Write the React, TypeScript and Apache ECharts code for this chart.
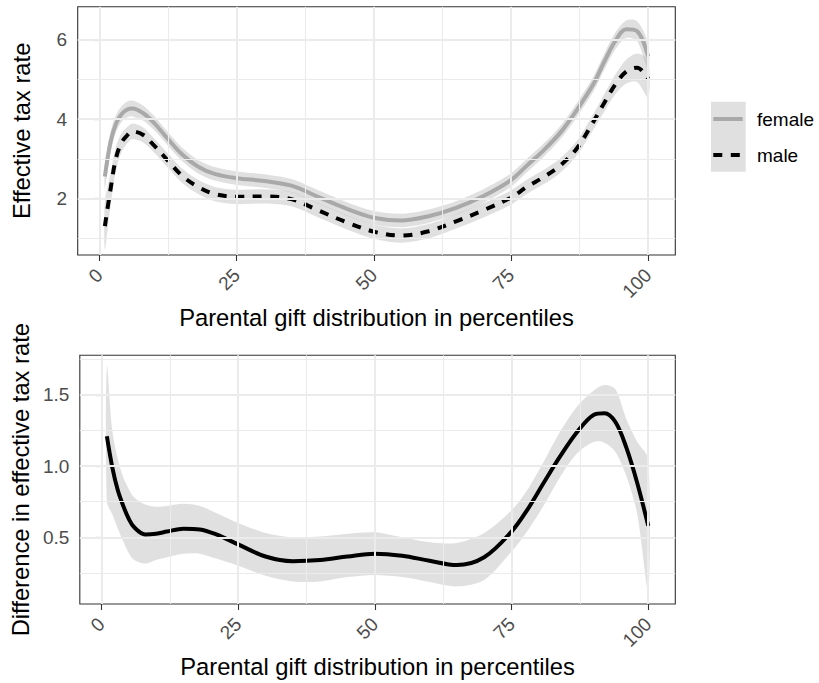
import React, { useEffect, useRef } from "react";
import * as echarts from "echarts";

// ---------- data ----------
const percentiles = [1, 2, 3, 4, 5, 6, 8, 10, 12, 15, 18, 21, 25, 30, 35, 40, 45, 50, 55, 60, 65, 70, 75, 78, 81, 84, 87, 90, 92, 94, 96, 98, 100];

const femaleFit = [2.55, 3.40, 3.88, 4.12, 4.24, 4.27, 4.15, 3.90, 3.58, 3.12, 2.80, 2.62, 2.51, 2.44, 2.32, 2.03, 1.74, 1.51, 1.44, 1.55, 1.76, 2.06, 2.46, 2.84, 3.22, 3.66, 4.23, 4.88, 5.45, 5.97, 6.27, 6.22, 5.58];
const femaleLo = [2.25, 3.14, 3.66, 3.92, 4.04, 4.07, 3.96, 3.72, 3.41, 2.95, 2.63, 2.45, 2.34, 2.27, 2.15, 1.86, 1.57, 1.34, 1.27, 1.38, 1.59, 1.89, 2.29, 2.67, 3.05, 3.49, 4.05, 4.69, 5.25, 5.76, 6.05, 5.97, 5.25];
const femaleHi = [2.85, 3.66, 4.10, 4.32, 4.44, 4.47, 4.34, 4.08, 3.75, 3.29, 2.97, 2.79, 2.68, 2.61, 2.49, 2.20, 1.91, 1.68, 1.61, 1.72, 1.93, 2.23, 2.63, 3.01, 3.39, 3.83, 4.41, 5.07, 5.65, 6.18, 6.49, 6.47, 5.91];

const maleFit = [1.30, 2.20, 3.00, 3.40, 3.58, 3.69, 3.60, 3.33, 3.03, 2.58, 2.29, 2.11, 2.04, 2.05, 1.98, 1.69, 1.40, 1.16, 1.06, 1.17, 1.42, 1.70, 2.02, 2.30, 2.54, 2.83, 3.26, 3.93, 4.41, 4.87, 5.20, 5.30, 5.02];
const maleLo = [0.70, 1.78, 2.70, 3.16, 3.37, 3.49, 3.41, 3.15, 2.85, 2.40, 2.11, 1.93, 1.86, 1.87, 1.80, 1.51, 1.22, 0.98, 0.88, 0.99, 1.24, 1.52, 1.84, 2.12, 2.36, 2.65, 3.08, 3.73, 4.19, 4.62, 4.90, 4.94, 4.55];
const maleHi = [1.90, 2.62, 3.30, 3.64, 3.79, 3.89, 3.79, 3.51, 3.21, 2.76, 2.47, 2.29, 2.22, 2.23, 2.16, 1.87, 1.58, 1.34, 1.24, 1.35, 1.60, 1.88, 2.20, 2.48, 2.72, 3.01, 3.45, 4.13, 4.63, 5.12, 5.50, 5.66, 5.49];

const diffFit = [1.21, 0.99, 0.83, 0.72, 0.63, 0.57, 0.52, 0.525, 0.54, 0.56, 0.555, 0.52, 0.45, 0.365, 0.332, 0.34, 0.365, 0.385, 0.37, 0.335, 0.305, 0.36, 0.54, 0.70, 0.89, 1.075, 1.24, 1.36, 1.372, 1.31, 1.13, 0.88, 0.58];
const diffLo = [0.75, 0.66, 0.56, 0.47, 0.39, 0.34, 0.315, 0.34, 0.36, 0.385, 0.385, 0.35, 0.30, 0.23, 0.19, 0.19, 0.22, 0.235, 0.22, 0.185, 0.155, 0.20, 0.40, 0.55, 0.73, 0.93, 1.09, 1.17, 1.165, 1.10, 0.93, 0.66, 0.12];
const diffHi = [1.70, 1.25, 1.05, 0.92, 0.84, 0.78, 0.73, 0.715, 0.72, 0.735, 0.72, 0.67, 0.60, 0.53, 0.50, 0.505, 0.525, 0.535, 0.50, 0.465, 0.46, 0.53, 0.69, 0.84, 1.04, 1.25, 1.42, 1.53, 1.57, 1.54, 1.33, 1.17, 1.05];

const xTicks = [0, 25, 50, 75, 100];
const xMinorBreaks = [12.5, 37.5, 62.5, 87.5];
const topYTicks = [2, 4, 6];
const topYMinorBreaks = [1, 3, 5];
const botYTicks = [0.5, 1.0, 1.5];
const botYMinorBreaks = [0.25, 0.75, 1.25, 1.75];

const seriesNames = ["female", "male"];
const xTitle = "Parental gift distribution in percentiles";
const topYTitle = "Effective tax rate";
const botYTitle = "Difference in effective tax rate";

// ---------- styles ----------
const FONT = "'Liberation Sans', Arial, Helvetica, sans-serif";
const RIBBON = "rgba(153,153,153,0.3)";
const FEMALE_COL = "#A9A9A9";
const LINE_W = 4;
const DASH = [9, 8.5];

function pairs(ys: number[]) {
  return percentiles.map((x, i) => [x, ys[i]]);
}

function band(lo: number[], hi: number[], axisIndex: number, z: number) {
  const data = percentiles.map((x, i) => [x, lo[i], hi[i]]);
  return {
    type: "custom",
    xAxisIndex: axisIndex,
    yAxisIndex: axisIndex,
    z,
    silent: true,
    data,
    encode: { x: 0, y: [1, 2] },
    renderItem: (params: any, api: any) => {
      if (params.dataIndex !== 0) return null;
      const upper = data.map((d) => api.coord([d[0], d[2]]));
      const lower = data.map((d) => api.coord([d[0], d[1]])).reverse();
      return {
        type: "polygon",
        shape: { points: upper.concat(lower), smooth: 0.3 },
        style: { fill: RIBBON },
      };
    },
  };
}

function gridLines(axisIndex: number, yMajor: number[], yMinor: number[], ys: number[]) {
  const major = { color: "#EBEBEB", width: 2, type: "solid" };
  const minor = { color: "#EBEBEB", width: 1.1, type: "solid" };
  return {
    type: "line",
    xAxisIndex: axisIndex,
    yAxisIndex: axisIndex,
    z: 1,
    silent: true,
    symbol: "none",
    data: pairs(ys),
    lineStyle: { opacity: 0 },
    markLine: {
      silent: true,
      symbol: ["none", "none"],
      label: { show: false },
      emphasis: { disabled: true },
      data: [
        ...xMinorBreaks.map((v) => ({ xAxis: v, lineStyle: minor })),
        ...yMinor.map((v) => ({ yAxis: v, lineStyle: minor })),
        ...xTicks.map((v) => ({ xAxis: v, lineStyle: major })),
        ...yMajor.map((v) => ({ yAxis: v, lineStyle: major })),
      ],
    },
  };
}

function xAxis(gridIndex: number) {
  return {
    type: "value",
    gridIndex,
    min: -3.95,
    max: 104.95,
    axisLine: { show: false },
    splitLine: { show: false },
    axisTick: { show: true, length: 6, customValues: xTicks, lineStyle: { color: "#333333", width: 1.1 } },
    axisLabel: {
      customValues: xTicks,
      rotate: 45,
      margin: 17,
      fontSize: 19,
      color: "#4D4D4D",
      fontFamily: FONT,
    },
    name: xTitle,
    nameLocation: "middle",
    nameGap: 50,
    nameTextStyle: { fontSize: 23.75, color: "#000000", fontFamily: FONT },
  };
}

function yAxis(gridIndex: number, min: number, max: number, ticks: number[], title: string, fmt: (v: number) => string) {
  return {
    type: "value",
    gridIndex,
    min,
    max,
    axisLine: { show: false },
    splitLine: { show: false },
    axisTick: { show: true, length: 6, customValues: ticks, lineStyle: { color: "#333333", width: 1.1 } },
    axisLabel: {
      customValues: ticks,
      margin: 10.5,
      fontSize: 19,
      color: "#4D4D4D",
      fontFamily: FONT,
      formatter: (v: number) => fmt(v),
    },
    name: title,
    nameLocation: "middle",
    nameRotate: 90,
    nameGap: 44,
    nameTextStyle: { fontSize: 23.75, color: "#000000", fontFamily: FONT },
  };
}

export default function App() {
  const ref = useRef<HTMLDivElement>(null);
  useEffect(() => {
    if (!ref.current) return;
    const chart = echarts.init(ref.current, undefined, { renderer: "svg" });
    const gridBase = { show: true, borderColor: "#333333", borderWidth: 1.1, backgroundColor: "#FFFFFF", containLabel: false };
    chart.setOption({
      animation: false,
      backgroundColor: "#FFFFFF",
      textStyle: { fontFamily: FONT },
      grid: [
        { ...gridBase, left: 77.7, top: 6.7, width: 597.6, height: 248.3 },
        { ...gridBase, left: 77.7, top: 355.3, width: 597.6, height: 248.7 },
      ],
      xAxis: [xAxis(0), xAxis(1)],
      yAxis: [
        yAxis(0, 0.57, 6.84, topYTicks, topYTitle, (v) => String(v)),
        yAxis(1, 0.031, 1.779, botYTicks, botYTitle, (v) => v.toFixed(1)),
      ],
      series: [
        gridLines(0, topYTicks, topYMinorBreaks, femaleFit),
        gridLines(1, botYTicks, botYMinorBreaks, diffFit),
        band(femaleLo, femaleHi, 0, 2),
        band(maleLo, maleHi, 0, 2),
        band(diffLo, diffHi, 1, 2),
        {
          name: seriesNames[0],
          type: "line",
          xAxisIndex: 0,
          yAxisIndex: 0,
          z: 3,
          silent: true,
          symbol: "none",
          smooth: 0.35,
          data: pairs(femaleFit),
          lineStyle: { color: FEMALE_COL, width: LINE_W, cap: "butt" },
        },
        {
          name: seriesNames[1],
          type: "line",
          xAxisIndex: 0,
          yAxisIndex: 0,
          z: 3,
          silent: true,
          symbol: "none",
          smooth: 0.35,
          data: pairs(maleFit),
          lineStyle: { color: "#000000", width: LINE_W, type: DASH, cap: "butt" },
        },
        {
          name: "difference",
          type: "line",
          xAxisIndex: 1,
          yAxisIndex: 1,
          z: 3,
          silent: true,
          symbol: "none",
          smooth: 0.35,
          data: pairs(diffFit),
          lineStyle: { color: "#000000", width: LINE_W, cap: "butt" },
        },
      ],
      graphic: [
        { type: "rect", shape: { x: 711, y: 101.7, width: 34.7, height: 70 }, style: { fill: "#E0E0E0" }, silent: true },
        { type: "line", shape: { x1: 713.3, y1: 119, x2: 742.7, y2: 119 }, style: { stroke: FEMALE_COL, lineWidth: LINE_W }, silent: true },
        { type: "line", shape: { x1: 713.3, y1: 155, x2: 742.7, y2: 155 }, style: { stroke: "#000000", lineWidth: LINE_W, lineDash: DASH }, silent: true },
        { type: "text", x: 757, y: 119, style: { text: seriesNames[0], fontSize: 19, fontFamily: FONT, fill: "#000000", verticalAlign: "middle", align: "left" }, silent: true },
        { type: "text", x: 757, y: 155, style: { text: seriesNames[1], fontSize: 19, fontFamily: FONT, fill: "#000000", verticalAlign: "middle", align: "left" }, silent: true },
      ],
    });
    return () => chart.dispose();
  }, []);
  return <div ref={ref} style={{ position: "fixed", left: 0, top: 0, width: 819, height: 683 }} />;
}
